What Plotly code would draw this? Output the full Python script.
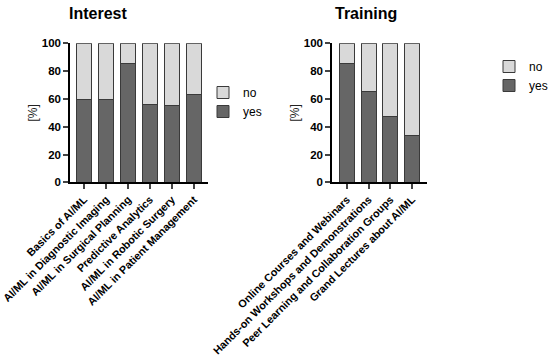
import plotly.graph_objects as go

interest_cats = ["Basics of AI/ML", "AI/ML in Diagnostic Imaging", "AI/ML in Surgical Planning",
                 "Predictive Analytics", "AI/ML in Robotic Surgery", "AI/ML in Patient Management"]
interest_yes = [59.7, 59.7, 85.8, 56.1, 55.0, 63.4]
interest_no = [100 - v for v in interest_yes]

training_cats = ["Online Courses and Webinars", "Hands-on Workshops and Demonstrations",
                 "Peer Learning and Collaboration Groups", "Grand Lectures about AI/ML"]
training_yes = [85.5, 65.0, 47.5, 34.0]
training_no = [100 - v for v in training_yes]

W, H = 550, 356
YES_C = "#666666"
NO_C = "#d9d9d9"
LINE_C = "#3a3a3a"
FONT = "Arial, Liberation Sans, sans-serif"

fig = go.Figure()

def add(cats, yes, no, xa, ya, leg):
    fig.add_trace(go.Bar(x=list(range(len(cats))), y=yes, name="yes", marker=dict(color=YES_C, line=dict(color=LINE_C, width=1)),
                         width=0.68, xaxis=xa, yaxis=ya, legend=leg))
    fig.add_trace(go.Bar(x=list(range(len(cats))), y=no, name="no", marker=dict(color=NO_C, line=dict(color=LINE_C, width=1)),
                         width=0.68, xaxis=xa, yaxis=ya, legend=leg))

add(interest_cats, interest_yes, interest_no, "x", "y", "legend")
add(training_cats, training_yes, training_no, "x2", "y2", "legend2")

ydom = [1 - 182.3 / H, 1 - 43.3 / H]
yaxis_common = dict(range=[0, 100], tickvals=[0, 20, 40, 60, 80, 100], ticks="outside", ticklen=5, tickwidth=1.5,
                    showline=True, linecolor="black", linewidth=1.5, showgrid=False, zeroline=False,
                    tickfont=dict(family=FONT, size=11.5, color="black", weight="bold"), automargin=False,
                    title=dict(text="[%]", font=dict(family=FONT, size=12, color="#222222"), standoff=2),
                    domain=ydom)
xaxis_common = dict(ticks="outside", ticklen=5, tickwidth=1.5, showline=True, linecolor="black", linewidth=1.5,
                    showgrid=False, zeroline=False, tickangle=-45, automargin=False, ticklabeloverflow="allow",
                    tickfont=dict(family=FONT, size=10.8, color="black", weight="bold"))

fig.update_layout(
    width=W, height=H, margin=dict(l=0, r=0, t=0, b=0, autoexpand=False),
    paper_bgcolor="white", plot_bgcolor="white", barmode="stack", showlegend=True,
    xaxis=dict(xaxis_common, domain=[70 / W, 208 / W], range=[-0.636, 5.636],
               tickvals=list(range(len(interest_cats))), ticktext=interest_cats, anchor="y"),
    yaxis=dict(yaxis_common, anchor="x"),
    xaxis2=dict(xaxis_common, domain=[332 / W, 427 / W], range=[-0.69, 3.69],
                tickvals=list(range(len(training_cats))), ticktext=training_cats, anchor="y2"),
    yaxis2=dict(yaxis_common, anchor="x2"),
    legend=dict(x=203 / W, y=1 - 78 / H, xanchor="left", yanchor="top", traceorder="reversed",
                font=dict(family=FONT, size=12, color="black"), bgcolor="rgba(0,0,0,0)"),
    legend2=dict(x=489 / W, y=1 - 52 / H, xanchor="left", yanchor="top", traceorder="reversed",
                 font=dict(family=FONT, size=12, color="black"), bgcolor="rgba(0,0,0,0)"),
    annotations=[
        dict(text="<b>Interest</b>", x=98 / W, y=1 - 13 / H, xref="paper", yref="paper", showarrow=False,
             font=dict(family=FONT, size=16, color="black"), xanchor="center", yanchor="middle"),
        dict(text="<b>Training</b>", x=366 / W, y=1 - 13 / H, xref="paper", yref="paper", showarrow=False,
             font=dict(family=FONT, size=16, color="black"), xanchor="center", yanchor="middle"),
    ],
)

fig.write_html("out.html", config={"displayModeBar": False},
               post_script="document.body.style.margin='0';document.body.style.overflow='hidden';")
